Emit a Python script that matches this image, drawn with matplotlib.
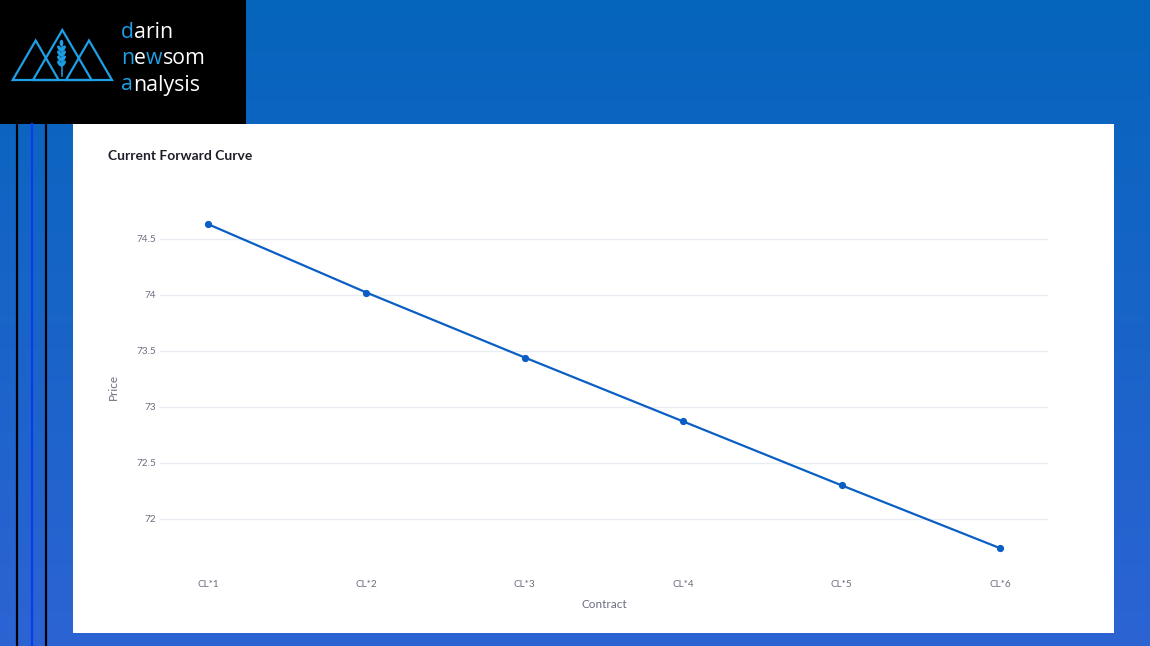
import matplotlib
matplotlib.use("Agg")
import matplotlib.pyplot as plt
import numpy as np
from matplotlib.patches import Rectangle, Polygon, Ellipse
from matplotlib.lines import Line2D

contracts = ["CL*1", "CL*2", "CL*3", "CL*4", "CL*5", "CL*6"]
prices = [74.63, 74.02, 73.44, 72.87, 72.30, 71.74]
yticks = [72, 72.5, 73, 73.5, 74, 74.5]
ytick_labels = ["72", "72.5", "73", "73.5", "74", "74.5"]

W, H = 1150, 646
fig = plt.figure(figsize=(W / 100, H / 100), dpi=100)

def fx(px):
    return px / W

def fy(py):
    return 1 - py / H

# background axes in pixel coordinates
bg = fig.add_axes([0, 0, 1, 1])
bg.set_axis_off()
top = np.array([0x05, 0x65, 0xBC]) / 255
bot = np.array([0x2C, 0x63, 0xD4]) / 255
t = np.linspace(0, 1, 256)[:, None]
grad = top[None, :] * (1 - t) + bot[None, :] * t
bg.imshow(grad[:, None, :].repeat(2, axis=1), aspect="auto", extent=[0, W, H, 0], zorder=0)
bg.set_xlim(0, W)
bg.set_ylim(H, 0)

# white panel
bg.add_patch(Rectangle((73, 124), 1114 - 73, 633 - 124, facecolor="white", edgecolor="none", zorder=1))
# black logo box
bg.add_patch(Rectangle((0, 0), 246, 124, facecolor="black", edgecolor="none", zorder=1))
# vertical lines
for xp, c in [(17, "black"), (32, "#0A3BF0"), (46, "black")]:
    bg.add_line(Line2D([xp, xp], [124, H], color=c, lw=1.6, zorder=2))

# logo mountains
lc = "#1E9FE6"
tris = [((12.7, 80), (35.7, 40.5), (58.7, 80)),
        ((33.0, 80), (62.3, 30.0), (91.6, 80)),
        ((66.0, 80), (89.0, 40.5), (112.0, 80))]
for tri in tris:
    bg.add_patch(Polygon(tri, closed=True, fill=False, edgecolor=lc, lw=1.6,
                         joinstyle="miter", zorder=3))
# wheat
bg.add_line(Line2D([61.5, 61.5], [46, 76], color=lc, lw=1.1, zorder=3))
bg.add_patch(Ellipse((61.5, 43), 2.2, 5.0, color=lc, zorder=3))
for yy in [48.5, 53.5, 58.5, 63.5]:
    bg.add_patch(Ellipse((59.6, yy), 2.0, 5.4, angle=-35, color=lc, zorder=3))
    bg.add_patch(Ellipse((63.4, yy), 2.0, 5.4, angle=35, color=lc, zorder=3))

# logo text
lfont = dict(family=["Open Sans", "DejaVu Sans"], fontsize=15.3, weight="normal",
             va="center", ha="left")
renderer = fig.canvas.get_renderer()
def logo_word(x, y, parts):
    cur = x
    for txt, col in parts:
        tt = bg.text(cur, y, txt, color=col, zorder=4, **lfont)
        bb = tt.get_window_extent(renderer=renderer)
        cur += bb.width
logo_word(121, 33, [("d", lc), ("arin", "white")])
logo_word(121, 59, [("n", lc), ("e", "white"), ("w", lc), ("som", "white")])
logo_word(121, 85, [("a", lc), ("nalysis", "white")])

# chart title
fig.text(fx(108), fy(156), "Current Forward Curve", fontsize=10, weight="bold",
         family=["Lato", "DejaVu Sans"], color="#1f1f2a", va="center", ha="left")

# main axes
ax = fig.add_axes([fx(160), fy(572), fx(1048) - fx(160), fy(201) - fy(572)])
x = np.arange(len(contracts))
ax.plot(x, prices, color="#0B5FC4", lw=1.6, marker="o", ms=4.2, zorder=3)
ax.set_xlim(-0.303, 5.303)
ax.set_ylim(72 - (572 - 519) / 112.1, 74.5 + (238.7 - 201) / 112.1)
ax.set_yticks(yticks)
ax.set_yticklabels(ytick_labels)
ax.set_xticks(x)
ax.set_xticklabels(contracts)
ax.grid(axis="y", color="#E9ECF1", lw=1)
ax.grid(axis="x", visible=False)
for s in ax.spines.values():
    s.set_visible(False)
ax.tick_params(length=0, labelsize=7.2, labelcolor="#6b6e80")
ax.tick_params(axis="x", pad=6)
ax.tick_params(axis="y", pad=3)
for lab in ax.get_xticklabels() + ax.get_yticklabels():
    lab.set_family(["Lato", "DejaVu Sans"])
ax.set_xlabel("Contract", fontsize=8.5, color="#6b6e80", family=["Lato", "DejaVu Sans"], labelpad=7)
ax.set_ylabel("Price", fontsize=8.5, color="#6b6e80", family=["Lato", "DejaVu Sans"], labelpad=12)
ax.set_facecolor("none")

fig.savefig("out.png", dpi=100)
